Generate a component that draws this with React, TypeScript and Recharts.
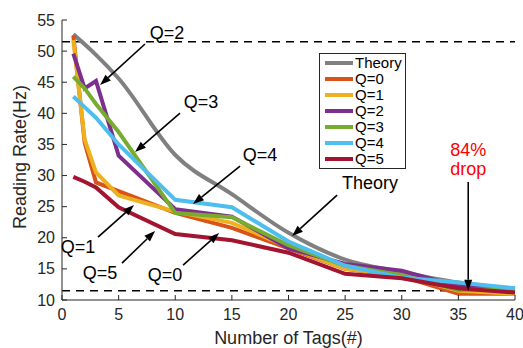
import React from 'react';
import { LineChart, Line, XAxis, YAxis, ReferenceLine, ReferenceDot, Label } from 'recharts';

const tags = [1, 2, 3, 5, 10, 15, 20, 25, 30, 35, 40];
const theory = [52.7, 51.1, 49.4, 45.6, 33.3, 27.0, 20.8, 16.5, 14.5, 12.8, 11.8];
const q0 = [52.5, 35.3, 28.9, 27.5, 24.0, 21.6, 18.3, 15.0, 13.8, 11.0, 11.0];
const q1 = [51.8, 35.8, 30.5, 26.8, 24.2, 22.4, 18.5, 15.0, 14.0, 11.5, 11.0];
const q2 = [49.6, 44.0, 45.2, 33.2, 24.6, 23.4, 18.3, 15.8, 14.7, 12.2, 11.5];
const q3 = [45.9, 44.0, 41.5, 37.0, 24.0, 23.3, 18.8, 15.5, 14.0, 11.6, 11.8];
const q4 = [42.7, 41.0, 39.3, 35.0, 26.1, 24.9, 19.4, 15.5, 13.6, 12.8, 11.9];
const q5 = [29.8, 29.0, 28.1, 24.9, 20.6, 19.6, 17.6, 14.2, 13.5, 11.9, 11.2];

const seriesKeys = ['theory', 'q0', 'q1', 'q2', 'q3', 'q4', 'q5'];
const seriesNames = ['Theory', 'Q=0', 'Q=1', 'Q=2', 'Q=3', 'Q=4', 'Q=5'];
const seriesValues = [theory, q0, q1, q2, q3, q4, q5];
const seriesColors = ['#808080', '#D95319', '#EDB120', '#7E2F8E', '#77AC30', '#4DBEEE', '#A2142F'];

const xTicks = [0, 5, 10, 15, 20, 25, 30, 35, 40];
const yTicks = [10, 15, 20, 25, 30, 35, 40, 45, 50, 55];
const dashedLevels = [51.5, 11.5];

// annotations, in data units
const notes = [
  { text: 'Q=2', x: 9.28, y: 52.9, color: '#000' },
  { text: 'Q=3', x: 12.28, y: 41.8, color: '#000' },
  { text: 'Q=4', x: 17.49, y: 33.3, color: '#000' },
  { text: 'Theory', x: 27.2, y: 28.8, color: '#000' },
  { text: 'Q=1', x: 1.41, y: 18.5, color: '#000' },
  { text: 'Q=5', x: 3.36, y: 14.3, color: '#000' },
  { text: 'Q=0', x: 9.1, y: 14.0, color: '#000' },
  { text: '84%', x: 35.87, y: 34.1, color: '#FF0000' },
  { text: 'drop', x: 35.87, y: 31.0, color: '#FF0000' },
];
const arrows = [
  { x1: 7.33, y1: 51.14, x2: 3.36, y2: 44.55 },
  { x1: 10.42, y1: 40.05, x2: 6.45, y2: 33.78 },
  { x1: 15.72, y1: 31.53, x2: 11.57, y2: 25.42 },
  { x1: 24.29, y1: 26.86, x2: 20.32, y2: 20.27 },
  { x1: 3.18, y1: 20.1, x2: 6.36, y2: 25.26 },
  { x1: 5.3, y1: 15.93, x2: 8.22, y2: 21.08 },
  { x1: 10.69, y1: 15.6, x2: 13.87, y2: 20.76 },
  { x1: 35.87, y1: 28.96, x2: 35.87, y2: 11.5 },
];

const data = tags.map((t, i) => {
  const row: any = { tags: t };
  seriesKeys.forEach((k, j) => (row[k] = seriesValues[j][i]));
  return row;
});

const FONT = '"Liberation Sans", Arial, Helvetica, sans-serif';
const INK = '#262626';

const BottomTick = (p: any) => (
  <g>
    <line x1={p.x} y1={p.y} x2={p.x} y2={p.y - 5} stroke={INK} />
    <text x={p.x} y={p.y + 14} textAnchor="middle" dominantBaseline="central" fontSize={16} fill={INK} fontFamily={FONT}>
      {p.payload.value}
    </text>
  </g>
);
const LeftTick = (p: any) => (
  <g>
    <line x1={p.x} y1={p.y} x2={p.x + 5} y2={p.y} stroke={INK} />
    <text x={p.x - 7} y={p.y} textAnchor="end" dominantBaseline="central" fontSize={16} fill={INK} fontFamily={FONT}>
      {p.payload.value}
    </text>
  </g>
);
const TopTick = (p: any) => <line x1={p.x} y1={p.y} x2={p.x} y2={p.y + 5} stroke={INK} />;
const RightTick = (p: any) => <line x1={p.x} y1={p.y} x2={p.x - 5} y2={p.y} stroke={INK} />;

const ArrowShape = (p: any) => {
  const { x1, y1, x2, y2 } = p;
  const a = Math.atan2(y2 - y1, x2 - x1);
  const len = 11;
  const half = 4;
  const bx = x2 - len * Math.cos(a);
  const by = y2 - len * Math.sin(a);
  const nx = -Math.sin(a) * half;
  const ny = Math.cos(a) * half;
  return (
    <g>
      <line x1={x1} y1={y1} x2={bx} y2={by} stroke="#000" strokeWidth={1.6} />
      <polygon points={`${x2},${y2} ${bx + nx},${by + ny} ${bx - nx},${by - ny}`} fill="#000" />
    </g>
  );
};

export default function App() {
  return (
    <div style={{ position: 'absolute', left: 0, top: 0, width: 523, height: 348, background: '#fff' }}>
      <LineChart width={523} height={348} data={data} margin={{ top: 20, right: 8, bottom: 0, left: 0 }} style={{ fontFamily: FONT }}>
        <XAxis dataKey="tags" type="number" domain={[0, 40]} ticks={xTicks} height={48} tickSize={0} tickMargin={0}
          tick={BottomTick} axisLine={{ stroke: INK }} tickLine={false}>
          <Label value="Number of Tags(#)" position="insideBottom" offset={4} fontSize={18} fill={INK} fontFamily={FONT} />
        </XAxis>
        <XAxis xAxisId="top" orientation="top" type="number" domain={[0, 40]} ticks={xTicks} height={0} tickSize={0}
          tickMargin={0} tick={TopTick} axisLine={{ stroke: INK }} tickLine={false} />
        <YAxis type="number" domain={[10, 55]} ticks={yTicks} width={62} tickSize={0} tickMargin={0} tick={LeftTick}
          axisLine={{ stroke: INK }} tickLine={false}>
          <Label
            content={(lp: any) => {
              const vb = lp.viewBox;
              const cx = vb.x + 20;
              const cy = vb.y + vb.height / 2 - 3;
              return (
                <text x={cx} y={cy} transform={`rotate(-90 ${cx} ${cy})`} textAnchor="middle" dominantBaseline="central"
                  fontSize={18} fill={INK} fontFamily={FONT}>
                  Reading Rate(Hz)
                </text>
              );
            }}
          />
        </YAxis>
        <YAxis yAxisId="right" orientation="right" type="number" domain={[10, 55]} ticks={yTicks} width={0} tickSize={0}
          tickMargin={0} tick={RightTick} axisLine={{ stroke: INK }} tickLine={false} />
        {dashedLevels.map((v) => (
          <ReferenceLine key={v} y={v} stroke="#000" strokeWidth={1.5} strokeDasharray="8 6" />
        ))}
        {seriesKeys.map((k, i) => (
          <Line key={k} dataKey={k} name={seriesNames[i]} stroke={seriesColors[i]} strokeWidth={4} dot={false}
            type={k === 'theory' ? 'monotone' : 'linear'} isAnimationActive={false} />
        ))}
        {arrows.map((a, i) => (
          <ReferenceLine key={'a' + i} segment={[{ x: a.x1, y: a.y1 }, { x: a.x2, y: a.y2 }]} shape={ArrowShape} />
        ))}
        {notes.map((n, i) => (
          <ReferenceDot key={'n' + i} x={n.x} y={n.y} r={0}
            shape={(p: any) => (
              <text x={p.cx} y={p.cy} textAnchor="middle" dominantBaseline="central" fontSize={18} fill={n.color}
                fontFamily={FONT}>
                {n.text}
              </text>
            )}
          />
        ))}
      </LineChart>

      {/* legend box */}
      <div style={{ position: 'absolute', left: 319, top: 53, border: `1px solid ${INK}`, background: '#fff',
        padding: '1px 0', width: 85, fontFamily: FONT }}>
        {seriesNames.map((n, i) => (
          <div key={n} style={{ display: 'flex', alignItems: 'center', height: 16 }}>
            <div style={{ marginLeft: 5, width: 28, height: 4, background: seriesColors[i] }} />
            <span style={{ marginLeft: 2, fontSize: 15, color: '#000', lineHeight: '16px' }}>{n}</span>
          </div>
        ))}
      </div>
    </div>
  );
}
